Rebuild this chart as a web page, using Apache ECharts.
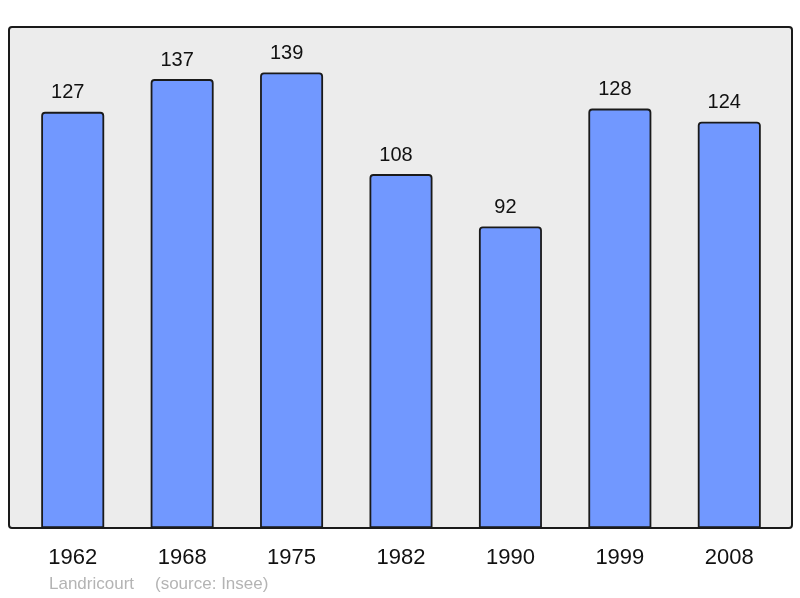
<!DOCTYPE html>
<html>
<head>
<meta charset="utf-8">
<script src="https://cdn.jsdelivr.net/npm/echarts@6/dist/echarts.min.js"></script>
<style>
  html, body { margin: 0; padding: 0; background: #fff; }
  #main { width: 800px; height: 598px; }
</style>
</head>
<body>
<div id="main"></div>
<script>
// population by census year
const years = ['1962', '1968', '1975', '1982', '1990', '1999', '2008'];
const population = [127, 137, 139, 108, 92, 128, 124];

const chart = echarts.init(document.getElementById('main'));
chart.setOption({
  animation: false,
  backgroundColor: '#ffffff',
  grid: { left: 18, right: 16, top: 27, bottom: 70 },
  graphic: [
    {
      type: 'rect',
      z: -10,
      shape: { x: 9, y: 27, width: 783, height: 501, r: 3 },
      style: { fill: '#ececec', stroke: '#1a1a1a', lineWidth: 2 }
    },
    {
      type: 'text',
      left: 49, top: 576,
      style: {
        text: 'Landricourt',
        fill: '#b4b4b4',
        font: '17px "Liberation Sans", Arial, sans-serif'
      }
    },
    {
      type: 'text',
      left: 155, top: 576,
      style: {
        text: '(source: Insee)',
        fill: '#b4b4b4',
        font: '17px "Liberation Sans", Arial, sans-serif'
      }
    }
  ],
  xAxis: {
    type: 'category',
    data: years,
    axisLine: { show: false },
    axisTick: { show: false },
    axisLabel: {
      color: '#111',
      fontSize: 22,
      fontFamily: 'Liberation Sans, Arial, sans-serif',
      margin: 19
    }
  },
  yAxis: {
    type: 'value',
    min: 0,
    max: 152.9,
    show: false,
    splitLine: { show: false }
  },
  series: [{
    type: 'bar',
    data: population,
    barWidth: 63,
    itemStyle: {
      color: '#7198ff',
      borderColor: '#1a1a1a',
      borderWidth: 1.8,
      borderRadius: [3, 3, 0, 0]
    },
    label: {
      show: true,
      position: 'top',
      distance: 9,
      offset: [-5, 0],
      color: '#111',
      fontSize: 20,
      fontFamily: 'Liberation Sans, Arial, sans-serif'
    }
  }]
});
</script>
</body>
</html>
